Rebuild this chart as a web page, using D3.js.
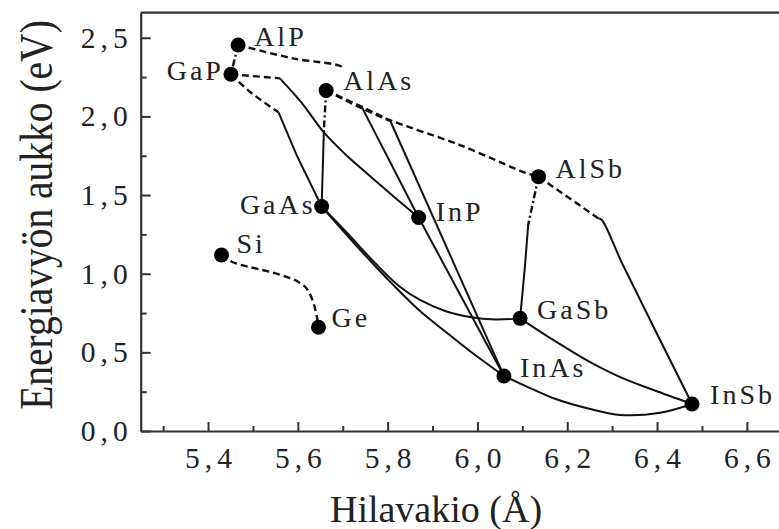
<html>
<head>
<meta charset="utf-8">
<script src="https://cdnjs.cloudflare.com/ajax/libs/d3/7.8.5/d3.min.js"></script>
<style>
  body { margin: 0; background: #fff; }
  text { font-family: "Liberation Serif", "Times New Roman", serif; fill: #222; }
</style>
</head>
<body>
<svg id="chart" width="779" height="529"></svg>
<script>

	// compounds: name, lattice constant (Å), band gap (eV)
	var compounds = ["AlP", "GaP", "AlAs", "AlSb", "GaAs", "InP", "Si", "Ge", "GaSb", "InAs", "InSb"]
	var latticeA  = [5.467, 5.451, 5.663, 6.136, 5.653, 5.869, 5.430, 5.646, 6.095, 6.059, 6.478]
	var gapEV     = [2.454, 2.268, 2.165, 1.617, 1.427, 1.357, 1.119, 0.660, 0.716, 0.350, 0.172]

	var xTicks = [5.4, 5.6, 5.8, 6.0, 6.2, 6.4, 6.6]
	var xMinor = [5.3, 5.5, 5.7, 5.9, 6.1, 6.3, 6.5]
	var yTicks = [0, 0.5, 1.0, 1.5, 2.0, 2.5]
	var yMinor = [0.25, 0.75, 1.25, 1.75, 2.25]

	// alloy lines, [lattice, gap] pairs
	var alpGap      = [[5.467,2.454],[5.451,2.268]]
	var alpAlas     = [[5.467,2.454],[5.589,2.369],[5.698,2.316],[5.701,2.297]]
	var gapUpper    = [[5.451,2.268],[5.560,2.242]]
	var gainp       = [[5.560,2.242],[5.609,2.085],[5.658,1.898],[5.705,1.761],[5.754,1.637],[5.812,1.494],[5.869,1.357]]
	var gapLower    = [[5.451,2.268],[5.493,2.157],[5.557,2.026]]
	var gaasp       = [[5.557,2.026],[5.597,1.755],[5.653,1.427]]
	var alasUpper   = [[5.663,2.165],[5.658,1.914]]
	var algaas      = [[5.658,1.914],[5.653,1.427]]
	var alasAlsb    = [[5.663,2.165],[5.742,2.062],[5.805,1.977],[5.961,1.818],[6.110,1.638],[6.136,1.617]]
	var alasInas    = [[5.663,2.165],[5.742,2.052],[5.805,1.972]]
	var alasInp     = [[5.742,2.062],[5.869,1.357]]
	var alinas      = [[5.805,1.977],[6.059,0.350]]
	var inpInas     = [[5.869,1.357],[6.059,0.350]]
	var gaasGasb    = [[5.653,1.427],[5.716,1.240],[5.772,1.068],[5.828,0.915],[5.872,0.833],[5.928,0.763],[5.983,0.725],[6.039,0.709],[6.095,0.716]]
	var gaasInas    = [[5.653,1.427],[5.716,1.224],[5.772,1.049],[5.828,0.884],[5.872,0.763],[5.928,0.633],[5.983,0.509],[6.059,0.350]]
	var alsbUpper   = [[6.136,1.617],[6.113,1.310]]
	var algasb      = [[6.113,1.310],[6.106,1.055],[6.095,0.716]]
	var alsbInsbTop = [[6.136,1.617],[6.269,1.352]]
	var alinsb      = [[6.269,1.352],[6.277,1.341],[6.324,1.055],[6.478,0.172]]
	var gasbInsb    = [[6.095,0.716],[6.162,0.591],[6.243,0.451],[6.318,0.343],[6.392,0.261],[6.478,0.172]]
	var inasInsb    = [[6.059,0.350],[6.117,0.273],[6.168,0.210],[6.251,0.140],[6.318,0.102],[6.407,0.116],[6.478,0.172]]
	var siGe        = [[5.430,1.119],[5.453,1.076],[5.616,0.917],[5.646,0.660]]

	var dashedLines  = [alpAlas, gapUpper, gapLower, alasAlsb, alasInas, alsbInsbTop, siGe]
	var dashDotLines = [alpGap, alasUpper, alsbUpper]
	var solidLines   = [gainp, gaasp, algaas, alasInp, alinas, inpInas, alinsb, algasb]
	var curvedLines  = [gaasGasb, gaasInas, gasbInsb, inasInsb]

	var svg = d3.select("#chart")

	var x = d3.scaleLinear().domain([5.25, 6.7]).range([140.7, 140.7 + 1.45 * 449])
	var y = d3.scaleLinear().domain([0, 2.66]).range([431, 431 - 2.66 * 157.3])

	var comma = d3.formatLocale({decimal: ",", thousands: " ", grouping: [3], currency: ["", ""]}).format(".1f")

	// axes
	var axisColor = "#333"
	var xAxis = svg.append("g").attr("transform", "translate(0," + y(0) + ")")
		.call(d3.axisBottom(x).tickValues(xTicks).tickSizeInner(-9).tickSizeOuter(0).tickPadding(16).tickFormat(comma))
	svg.append("g").attr("transform", "translate(0," + y(0) + ")")
		.call(d3.axisBottom(x).tickValues(xMinor).tickSizeInner(-5).tickSizeOuter(0).tickFormat(""))
		.select(".domain").remove()
	var yAxis = svg.append("g").attr("transform", "translate(" + x(5.25) + ",0)")
		.call(d3.axisLeft(y).tickValues(yTicks).tickSizeInner(-10).tickSizeOuter(0).tickPadding(12).tickFormat(comma))
	svg.append("g").attr("transform", "translate(" + x(5.25) + ",0)")
		.call(d3.axisLeft(y).tickValues(yMinor).tickSizeInner(-6).tickSizeOuter(0).tickFormat(""))
		.select(".domain").remove()

	svg.selectAll(".domain").attr("stroke", axisColor).attr("stroke-width", 2.2)
	svg.selectAll(".tick line").attr("stroke", axisColor).attr("stroke-width", 2)
	svg.selectAll(".tick text")
		.style("font-family", "'Liberation Serif', serif")
		.style("font-size", "29.5px")
		.style("letter-spacing", "5px")
		.attr("fill", "#333")
	xAxis.selectAll(".tick text").attr("dx", "2.5")
	yAxis.selectAll(".tick text").attr("dx", "4")

	// top frame line
	svg.append("line")
		.attr("x1", x(5.25)).attr("x2", 779)
		.attr("y1", y(2.66)).attr("y2", y(2.66))
		.attr("stroke", axisColor).attr("stroke-width", 2.2)

	// lines
	var straight = d3.line().x(d => x(d[0])).y(d => y(d[1]))
	var smooth = d3.line().x(d => x(d[0])).y(d => y(d[1])).curve(d3.curveCatmullRom.alpha(0.5))

	var lineG = svg.append("g").attr("fill", "none").attr("stroke", "#111")
	solidLines.forEach(pts => {
		lineG.append("path").attr("d", (pts.length > 3 ? smooth : straight)(pts)).attr("stroke-width", 2)
	})
	curvedLines.forEach(pts => {
		lineG.append("path").attr("d", smooth(pts)).attr("stroke-width", 2)
	})
	dashedLines.forEach(pts => {
		lineG.append("path").attr("d", smooth(pts)).attr("stroke-width", 2.4).attr("stroke-dasharray", "7,4")
	})
	dashDotLines.forEach(pts => {
		lineG.append("path").attr("d", straight(pts)).attr("stroke-width", 2.4).attr("stroke-dasharray", "7,3,2,3")
	})

	// points
	svg.append("g").selectAll("circle")
		.data(compounds)
		.enter().append("circle")
		.attr("cx", (d, i) => x(latticeA[i]))
		.attr("cy", (d, i) => y(gapEV[i]))
		.attr("r", 7.5)
		.attr("fill", "#000")

	// label placement relative to the point: [dx, dy, anchor]
	var labelPos = {
		AlP: [16, 1, "start"], GaP: [-10, 6, "end"], AlAs: [17, 0, "start"], AlSb: [17, 1, "start"],
		GaAs: [-9, 7, "end"], InP: [17, 3, "start"], Si: [15, -2, "start"], Ge: [13, 0, "start"],
		GaSb: [17, 1, "start"], InAs: [16, 1, "start"], InSb: [18, 0, "start"]
	}
	svg.append("g").selectAll("text")
		.data(compounds)
		.enter().append("text")
		.attr("x", (d, i) => x(latticeA[i]) + labelPos[d][0])
		.attr("y", (d, i) => y(gapEV[i]) + labelPos[d][1])
		.attr("text-anchor", d => labelPos[d][2])
		.attr("dx", d => labelPos[d][2] == "end" ? 3 : 0)
		.style("font-size", "28px")
		.style("letter-spacing", "3px")
		.text(d => d)

	// axis titles
	svg.append("text")
		.attr("x", 436).attr("y", 522)
		.attr("text-anchor", "middle")
		.style("font-size", "38px")
		.text("Hilavakio (Å)")

	svg.append("text")
		.attr("transform", "translate(52,215) scale(1.2,1) rotate(-90)")
		.attr("text-anchor", "middle")
		.style("font-size", "39.5px")
		.text("Energiavyön aukko (eV)")

</script>
</body>
</html>
